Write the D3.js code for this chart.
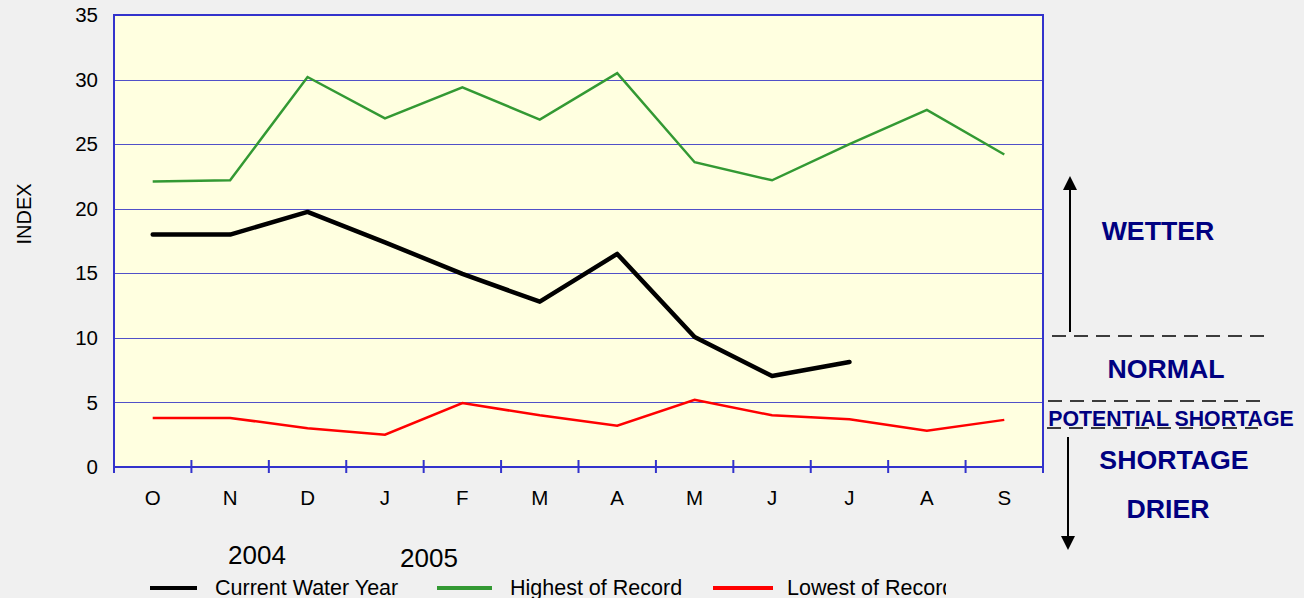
<!DOCTYPE html>
<html><head><meta charset="utf-8">
<script src="https://cdn.jsdelivr.net/npm/d3@7"></script>
<style>html,body{margin:0;padding:0;background:#f0f0f0;}svg{display:block;font-family:"Liberation Sans",Arial,sans-serif;}</style>
</head><body><svg id="c" width="1304" height="598"></svg>
<script>
const months = ["O","N","D","J","F","M","A","M","J","J","A","S"];
const current = [18.0, 18.0, 19.75, 17.4, 14.95, 12.8, 16.5, 10.07, 7.05, 8.13];
const highest = [22.1, 22.2, 30.2, 27.0, 29.4, 26.9, 30.5, 23.6, 22.2, 25.0, 27.65, 24.2];
const lowest = [3.8, 3.8, 3.0, 2.5, 4.95, 4.0, 3.2, 5.2, 4.0, 3.7, 2.8, 3.65];
const yTicks = [0,5,10,15,20,25,30,35];
const years = ["2004","2005"];
const legendNames = ["Current Water Year","Highest of Record","Lowest of Record"];
const zones = ["WETTER","NORMAL","POTENTIAL SHORTAGE","SHORTAGE","DRIER"];

const svg = d3.select("#c");
const L=114, R=1043, T=15, B=467;
const idx = months.map((m,i)=>i);
const x = d3.scaleBand().domain(idx).range([L,R]);
const y = d3.scaleLinear().domain([0,35]).range([B,T]);
const cx = i => x(i)+x.bandwidth()/2;

svg.append("rect").attr("x",L).attr("y",T).attr("width",R-L).attr("height",B-T).attr("fill","#ffffe0");
svg.append("g").selectAll("line").data(yTicks.filter(v=>v>0 && v<35)).join("line")
  .attr("x1",L).attr("x2",R).attr("y1",d=>Math.round(y(d))+0.5).attr("y2",d=>Math.round(y(d))+0.5)
  .attr("stroke","#5050c8").attr("stroke-width",1);
svg.append("rect").attr("x",L).attr("y",T).attr("width",R-L).attr("height",B-T)
  .attr("fill","none").attr("stroke","#3333cc").attr("stroke-width",2);
svg.append("g").selectAll("text").data(yTicks).join("text")
  .attr("x",98).attr("y",d=>y(d)).attr("dy","0.35em").attr("text-anchor","end")
  .attr("font-size",20.5).attr("fill","#000").text(d=>d);
const bounds = idx.map(i=>x(i)).concat([R]);
svg.append("g").selectAll("line").data(bounds).join("line")
  .attr("x1",d=>d).attr("x2",d=>d).attr("y1",B-7).attr("y2",B+6)
  .attr("stroke","#3333cc").attr("stroke-width",2);
svg.append("g").selectAll("text").data(idx).join("text")
  .attr("x",cx).attr("y",498).attr("dy","0.35em").attr("text-anchor","middle")
  .attr("font-size",20.5).attr("fill","#000").text(i=>months[i]);
svg.append("text").attr("transform","translate(31,214) rotate(-90)").attr("text-anchor","middle")
  .attr("font-size",20).attr("fill","#000").text("INDEX");

const line = d3.line().x((d,i)=>cx(i)).y(d=>y(d));
svg.append("path").datum(highest).attr("d",line).attr("fill","none").attr("stroke","#339933").attr("stroke-width",2.5);
svg.append("path").datum(lowest).attr("d",line).attr("fill","none").attr("stroke","#ff0000").attr("stroke-width",2.5);
svg.append("path").datum(current).attr("d",line).attr("fill","none").attr("stroke","#000").attr("stroke-width",4.5).attr("stroke-linecap","round").attr("stroke-linejoin","round");

svg.append("text").attr("x",257).attr("y",564).attr("text-anchor","middle").attr("font-size",26).text(years[0]);
svg.append("text").attr("x",429).attr("y",567).attr("text-anchor","middle").attr("font-size",26).text(years[1]);

const defs = svg.append("defs");
defs.append("clipPath").attr("id","lc").append("rect").attr("x",0).attr("y",560).attr("width",946).attr("height",40);
const lg = svg.append("g").attr("clip-path","url(#lc)");
const legCols = ["#000","#339933","#ff0000"];
const legLineX = [[150,197],[437,492],[713,773]];
const legTextX = [215,510,787];
legendNames.forEach((n,i)=>{
  lg.append("line").attr("x1",legLineX[i][0]).attr("x2",legLineX[i][1]).attr("y1",588).attr("y2",588)
    .attr("stroke",legCols[i]).attr("stroke-width",4);
  lg.append("text").attr("x",legTextX[i]).attr("y",595).attr("font-size",21.5).attr("fill","#000").text(n);
});

const navy = "#000080";
const dash = [[1052,1265,336],[1048,1262,401],[1047,1258,428]];
svg.append("g").selectAll("line").data(dash).join("line")
  .attr("x1",d=>d[0]).attr("x2",d=>d[1]).attr("y1",d=>d[2]).attr("y2",d=>d[2])
  .attr("stroke","#000").attr("stroke-width",1.5).attr("stroke-dasharray","14,8");
svg.append("line").attr("x1",1070).attr("x2",1070).attr("y1",186).attr("y2",332).attr("stroke","#000").attr("stroke-width",2);
svg.append("path").attr("d","M1070,176 L1063,190 L1077,190 Z").attr("fill","#000");
svg.append("line").attr("x1",1068).attr("x2",1068).attr("y1",437).attr("y2",540).attr("stroke","#000").attr("stroke-width",2);
svg.append("path").attr("d","M1068,550 L1061,536 L1075,536 Z").attr("fill","#000");

const zoneX = [1158,1166,1171,1174,1168];
const zoneY = [240,378,426,469,518];
const zoneSize = [26.7,26.7,21.3,26.7,26.7];
zones.forEach((z,i)=>{
  svg.append("text").attr("x",zoneX[i]).attr("y",zoneY[i]).attr("text-anchor","middle")
    .attr("font-size",zoneSize[i]).attr("font-weight","bold").attr("fill",navy).text(z);
});
</script></body></html>
